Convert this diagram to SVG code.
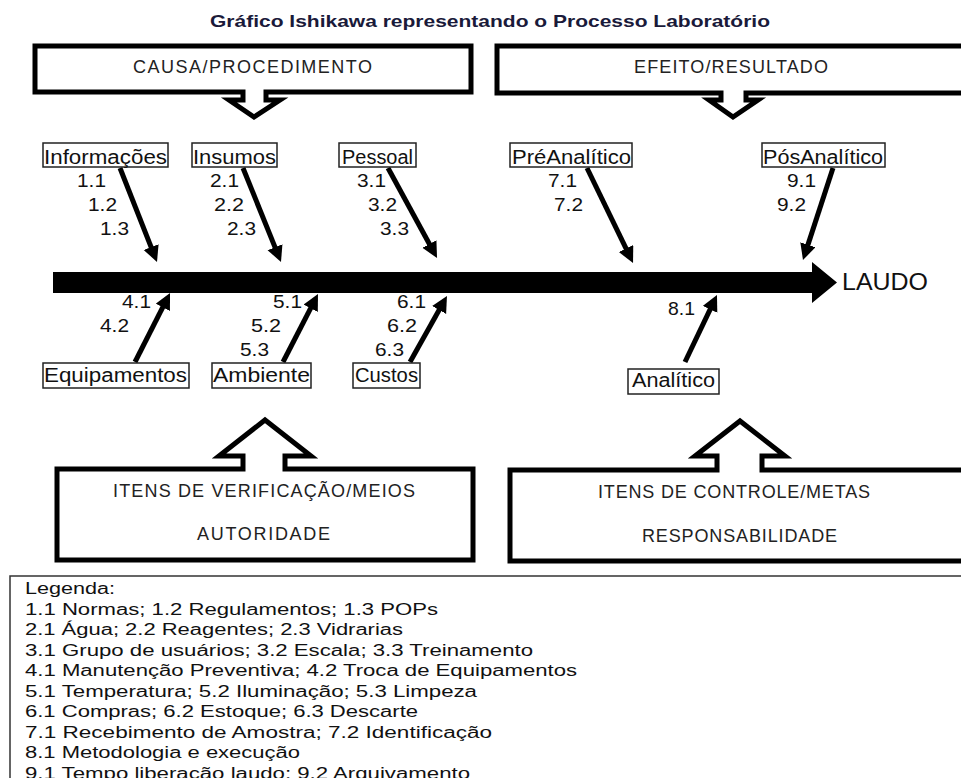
<svg xmlns="http://www.w3.org/2000/svg" width="961" height="778" viewBox="0 0 961 778">
<defs>
<style>
.t{font-family:"Liberation Sans",Arial,sans-serif;fill:#111}
.title{font-family:"Liberation Sans",Arial,sans-serif;font-weight:bold;font-size:16.5px;fill:#1a1a3a}
.cap{font-family:"Liberation Sans",Arial,sans-serif;font-size:18px;fill:#222}
.lbl{font-size:20px}
.num{font-size:19px}
.leg{font-size:16px}
.bigbox{fill:#fff;stroke:#000;stroke-width:5;stroke-linejoin:miter}
.lbox{fill:#fff;stroke:#222;stroke-width:1.5}
.arr{fill:none;stroke:#000;stroke-width:5;marker-end:url(#ah)}
</style>
<marker id="ah" markerUnits="userSpaceOnUse" markerWidth="18" markerHeight="18" refX="4" refY="8" orient="auto">
<path d="M0,0 L16,8 L0,16 Z" fill="#000"/>
</marker>
</defs>
<rect width="961" height="778" fill="#fff"/>

<text class="title" x="210" y="27" textLength="560" lengthAdjust="spacingAndGlyphs">Gráfico Ishikawa representando o Processo Laboratório</text>

<g id="causa">
<path class="bigbox" d="M35,46 H471 V92 H266 V100 H280 L254,117 L229,100 H243 V92 H35 Z"/>
<text class="cap" x="133" y="73" textLength="239">CAUSA/PROCEDIMENTO</text>
</g>
<g id="efeito">
<path class="bigbox" d="M497,46 H975 V93 H746 V100 H758 L733,117 L709,100 H721 V93 H497 Z"/>
<text class="cap" x="634" y="73" textLength="194">EFEITO/RESULTADO</text>
</g>
<g id="verificacao">
<path class="bigbox" d="M57,469 H243 V456 H219 L265,420 L311,456 H285 V469 H473 V560 H57 Z"/>
<text class="cap" x="113" y="497" textLength="302">ITENS DE VERIFICAÇÃO/MEIOS</text>
<text class="cap" x="197" y="540" textLength="133">AUTORIDADE</text>
</g>
<g id="controle">
<path class="bigbox" d="M510,470 H717 V456 H695 L740,421 L785,456 H762 V470 H975 V561 H510 Z"/>
<text class="cap" x="598" y="498" textLength="272">ITENS DE CONTROLE/METAS</text>
<text class="cap" x="642" y="542" textLength="195">RESPONSABILIDADE</text>
</g>

<g id="spine">
<polygon points="53,272 812,272 812,262 837,282.5 812,303 812,293 53,293" fill="#000"/>
<text class="t" x="842" y="290" font-size="24" textLength="86" lengthAdjust="spacingAndGlyphs">LAUDO</text>
</g>

<g id="connectors">
<path class="arr" d="M120,168 L152.6,250.8"/>
<path class="arr" d="M243,168 L276.5,250.9"/>
<path class="arr" d="M388,168 L431.3,247.5"/>
<path class="arr" d="M587,168 L627.8,252.2"/>
<path class="arr" d="M833,168 L806.7,248.6"/>
<path class="arr" d="M135,362 L164.6,303.7"/>
<path class="arr" d="M283,362 L312.5,304.7"/>
<path class="arr" d="M410,362 L441.1,306.5"/>
<path class="arr" d="M685,362 L711.8,305.8"/>
</g>

<g id="informacoes">
<rect class="lbox" x="43" y="143" width="125" height="24"/>
<text class="t lbl" x="44" y="164" textLength="123" lengthAdjust="spacingAndGlyphs">Informações</text>
<text class="t num" x="77" y="187" textLength="29" lengthAdjust="spacingAndGlyphs">1.1</text>
<text class="t num" x="88" y="211" textLength="29" lengthAdjust="spacingAndGlyphs">1.2</text>
<text class="t num" x="100" y="235" textLength="29" lengthAdjust="spacingAndGlyphs">1.3</text>
</g>
<g id="insumos">
<rect class="lbox" x="192" y="143" width="85" height="24"/>
<text class="t lbl" x="193" y="164" textLength="83" lengthAdjust="spacingAndGlyphs">Insumos</text>
<text class="t num" x="210" y="187" textLength="29" lengthAdjust="spacingAndGlyphs">2.1</text>
<text class="t num" x="214" y="211" textLength="30" lengthAdjust="spacingAndGlyphs">2.2</text>
<text class="t num" x="227" y="235" textLength="29" lengthAdjust="spacingAndGlyphs">2.3</text>
</g>
<g id="pessoal">
<rect class="lbox" x="339" y="143" width="77" height="24"/>
<text class="t lbl" x="342" y="164" textLength="71" lengthAdjust="spacingAndGlyphs">Pessoal</text>
<text class="t num" x="357" y="187" textLength="29" lengthAdjust="spacingAndGlyphs">3.1</text>
<text class="t num" x="368" y="211" textLength="29" lengthAdjust="spacingAndGlyphs">3.2</text>
<text class="t num" x="380" y="235" textLength="29" lengthAdjust="spacingAndGlyphs">3.3</text>
</g>
<g id="preanalitico">
<rect class="lbox" x="510" y="143" width="122" height="24"/>
<text class="t lbl" x="512" y="164" textLength="119" lengthAdjust="spacingAndGlyphs">PréAnalítico</text>
<text class="t num" x="548" y="187" textLength="29" lengthAdjust="spacingAndGlyphs">7.1</text>
<text class="t num" x="554" y="211" textLength="29" lengthAdjust="spacingAndGlyphs">7.2</text>
</g>
<g id="posanalitico">
<rect class="lbox" x="762" y="143" width="123" height="24"/>
<text class="t lbl" x="763" y="164" textLength="120" lengthAdjust="spacingAndGlyphs">PósAnalítico</text>
<text class="t num" x="787" y="187" textLength="29" lengthAdjust="spacingAndGlyphs">9.1</text>
<text class="t num" x="777" y="211" textLength="29" lengthAdjust="spacingAndGlyphs">9.2</text>
</g>
<g id="equipamentos">
<rect class="lbox" x="43" y="363" width="146" height="25"/>
<text class="t lbl" x="44" y="382" textLength="143" lengthAdjust="spacingAndGlyphs">Equipamentos</text>
<text class="t num" x="122" y="308" textLength="29" lengthAdjust="spacingAndGlyphs">4.1</text>
<text class="t num" x="100" y="332" textLength="29" lengthAdjust="spacingAndGlyphs">4.2</text>
</g>
<g id="ambiente">
<rect class="lbox" x="212" y="363" width="99" height="25"/>
<text class="t lbl" x="213" y="382" textLength="97" lengthAdjust="spacingAndGlyphs">Ambiente</text>
<text class="t num" x="273" y="308" textLength="29" lengthAdjust="spacingAndGlyphs">5.1</text>
<text class="t num" x="251" y="332" textLength="30" lengthAdjust="spacingAndGlyphs">5.2</text>
<text class="t num" x="240" y="356" textLength="29" lengthAdjust="spacingAndGlyphs">5.3</text>
</g>
<g id="custos">
<rect class="lbox" x="353" y="363" width="67" height="25"/>
<text class="t lbl" x="355" y="382" textLength="63" lengthAdjust="spacingAndGlyphs">Custos</text>
<text class="t num" x="397" y="308" textLength="29" lengthAdjust="spacingAndGlyphs">6.1</text>
<text class="t num" x="387" y="332" textLength="30" lengthAdjust="spacingAndGlyphs">6.2</text>
<text class="t num" x="375" y="356" textLength="29" lengthAdjust="spacingAndGlyphs">6.3</text>
</g>
<g id="analitico">
<rect class="lbox" x="628" y="369" width="91" height="25"/>
<text class="t lbl" x="632" y="387" textLength="83" lengthAdjust="spacingAndGlyphs">Analítico</text>
<text class="t num" x="668" y="315" textLength="27" lengthAdjust="spacingAndGlyphs">8.1</text>
</g>

<g id="legenda">
<rect x="10" y="576" width="970" height="230" fill="none" stroke="#333" stroke-width="1.5"/>
<text class="t leg" x="25" y="594" textLength="90" lengthAdjust="spacingAndGlyphs">Legenda:</text>
<text class="t leg" x="25" y="615" textLength="413" lengthAdjust="spacingAndGlyphs">1.1  Normas; 1.2 Regulamentos; 1.3 POPs</text>
<text class="t leg" x="25" y="635" textLength="378" lengthAdjust="spacingAndGlyphs">2.1 Água; 2.2 Reagentes; 2.3 Vidrarias</text>
<text class="t leg" x="25" y="656" textLength="508" lengthAdjust="spacingAndGlyphs">3.1 Grupo de usuários; 3.2 Escala; 3.3 Treinamento</text>
<text class="t leg" x="25" y="676" textLength="552" lengthAdjust="spacingAndGlyphs">4.1 Manutenção Preventiva; 4.2 Troca de Equipamentos</text>
<text class="t leg" x="25" y="697" textLength="452" lengthAdjust="spacingAndGlyphs">5.1 Temperatura; 5.2 Iluminação; 5.3 Limpeza</text>
<text class="t leg" x="25" y="717" textLength="393" lengthAdjust="spacingAndGlyphs">6.1 Compras; 6.2 Estoque; 6.3 Descarte</text>
<text class="t leg" x="25" y="738" textLength="467" lengthAdjust="spacingAndGlyphs">7.1 Recebimento de Amostra; 7.2  Identificação</text>
<text class="t leg" x="25" y="758" textLength="275" lengthAdjust="spacingAndGlyphs">8.1 Metodologia e execução</text>
<text class="t leg" x="25" y="779" textLength="445" lengthAdjust="spacingAndGlyphs">9.1 Tempo liberação laudo; 9.2 Arquivamento</text>
</g>
</svg>
